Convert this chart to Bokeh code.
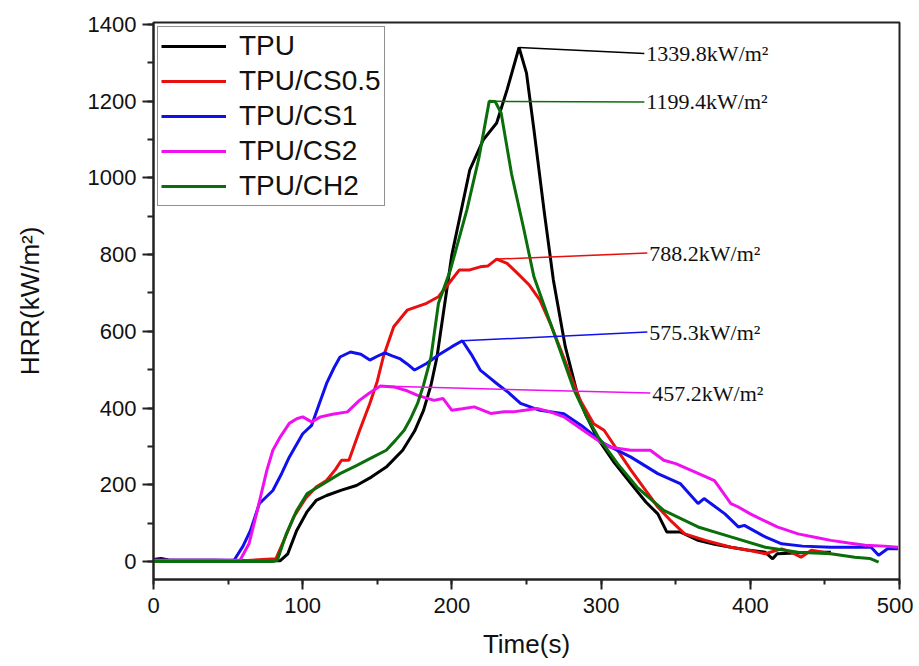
from bokeh.plotting import figure
from bokeh.models import (Legend, LegendItem, SingleIntervalTicker, Range1d,
                          ColumnDataSource)
from bokeh.core.properties import value
from bokeh.embed import file_html
from bokeh.resources import INLINE

# ---------------- data ----------------
tpu_t = [0, 5, 10, 20, 40, 60, 80, 85, 90, 96, 103, 109, 116, 126, 136, 146, 156, 167,
         175, 181, 186, 190, 200, 212, 221, 230, 237, 245, 250, 255, 262, 268, 276, 284,
         290, 297, 308, 320, 330, 338, 344, 353, 365, 376, 387, 398, 410, 415, 418, 430,
         442, 454]
tpu_y = [5, 8, 4, 3, 3, 2, 2, 2, 20, 81, 130, 159, 172, 186, 198, 220, 246, 290,
         340, 394, 460, 533, 800, 1021, 1099, 1143, 1230, 1339.8, 1273, 1125, 908, 734, 560, 438,
         380, 325, 262, 203, 155, 124, 77, 77, 55, 45, 37, 30, 24, 7, 20, 22,
         24, 24]

cs05_t = [0, 20, 40, 60, 82, 88, 94, 102, 109, 116, 122, 126, 131, 138, 145, 150, 154, 161,
          170, 183, 191, 197, 205, 212, 219, 224, 230, 237, 244, 252, 259, 266, 273, 280,
          286, 295, 302, 311, 320, 329, 338, 347, 356, 370, 387, 398, 410, 421, 427, 434,
          441, 448, 454]
cs05_y = [2, 2, 2, 2, 7, 60, 116, 165, 194, 211, 240, 264, 264, 340, 412, 470, 533, 612,
          655, 673, 690, 720, 760, 760, 768, 770, 788.2, 777, 751, 720, 681, 620, 551, 480,
          420, 359, 342, 290, 238, 190, 142, 105, 72, 55, 37, 30, 20, 33, 25, 11,
          29, 25, 20]

cs1_t = [0, 20, 40, 50, 54, 60, 65, 71, 80, 86, 91, 100, 106, 111, 116, 121, 125, 132,
         139, 145, 150, 155, 160, 165, 170, 175, 183, 191, 200, 207, 213, 219, 225, 230,
         238, 246, 259, 275, 288, 302, 320, 338, 353, 365, 369, 383, 392, 396, 410, 421,
         435, 454, 470, 481, 486, 492, 499]
cs1_y = [3, 3, 3, 3, 3, 40, 81, 151, 185, 230, 272, 333, 355, 410, 464, 505, 533, 546,
         540, 525, 535, 544, 536, 529, 515, 499, 516, 538, 560, 575.3, 540, 499, 480, 464,
         440, 412, 394, 385, 351, 307, 272, 229, 203, 151, 164, 124, 90, 94, 64, 46,
         40, 37, 37, 37, 16, 33, 33]

cs2_t = [0, 20, 40, 55, 58, 64, 69, 76, 80, 85, 91, 96, 100, 106, 112, 120, 130, 138,
         145, 152, 161, 170, 177, 188, 194, 200, 207, 215, 226, 235, 241, 250, 257, 266,
         275, 288, 300, 306, 320, 333, 342, 350, 360, 376, 387, 392, 400, 410, 418, 432,
         445, 454, 466, 477, 490, 499]
cs2_y = [3, 3, 3, 3, 3, 46, 124, 238, 290, 325, 360, 372, 377, 364, 377, 384, 390, 420,
         440, 457.2, 455, 445, 433, 420, 425, 394, 398, 403, 386, 390, 390, 395, 399, 390,
         377, 342, 310, 298, 290, 290, 264, 255, 238, 211, 151, 142, 124, 105, 90, 72,
         62, 55, 48, 42, 40, 37]

ch2_t = [0, 20, 40, 60, 80, 83, 89, 96, 103, 112, 125, 136, 147, 156, 162, 168, 172, 177,
         181, 186, 191, 199, 210, 218, 225, 229, 233, 240, 248, 255, 262, 270, 282, 290,
         298, 311, 324, 342, 365, 387, 410, 432, 454, 470, 480, 486]
ch2_y = [0, 0, 0, 0, 0, 3, 72, 133, 177, 198, 229, 250, 272, 290, 315, 342, 370, 412,
         460, 533, 673, 760, 916, 1050, 1199.4, 1199, 1169, 1010, 870, 742, 665, 578, 446, 380,
         325, 255, 194, 133, 90, 64, 37, 24, 20, 11, 8, -2]

series_names = ["TPU", "TPU/CS0.5", "TPU/CS1", "TPU/CS2", "TPU/CH2"]
series_colors = ["#000000", "#e8100e", "#1010ee", "#ee10ee", "#0a6e0a"]

# peak annotations
peak_x = [245, 229, 230, 207, 152]
peak_y = [1339.8, 1199.4, 788.2, 575.3, 457.2]
peak_colors = ["#000000", "#0a6e0a", "#e8100e", "#1010ee", "#ee10ee"]
label_x = [329, 329, 331, 331, 333]
label_y = [1324, 1198, 804, 598, 439]
label_text = ["1339.8kW/m²", "1199.4kW/m²", "788.2kW/m²", "575.3kW/m²", "457.2kW/m²"]

# ---------------- figure ----------------
p = figure(width=913, height=666, x_range=Range1d(0, 500), y_range=Range1d(-47, 1405),
           output_backend="svg", toolbar_location=None,
           min_border_left=153, min_border_right=14, min_border_top=22, min_border_bottom=87)
p.grid.visible = False
p.outline_line_color = "#222222"
p.outline_line_width = 2
p.background_fill_color = "white"
p.border_fill_color = "white"

SANS = "Liberation Sans"

xs = [tpu_t, cs05_t, cs1_t, cs2_t, ch2_t]
ys = [tpu_y, cs05_y, cs1_y, cs2_y, ch2_y]
items = []
for name, col, xx, yy in zip(series_names, series_colors, xs, ys):
    r = p.line(xx, yy, line_color=col, line_width=3)
    items.append(LegendItem(label=name, renderers=[r]))

# leader lines and labels
p.segment(x0=peak_x, y0=peak_y, x1=label_x, y1=label_y, line_color=peak_colors, line_width=1.5)
src = ColumnDataSource(dict(x=label_x, y=label_y, t=label_text))
p.text(x="x", y="y", text="t", source=src, text_font=value("Liberation Serif"),
       text_font_size="22px", text_baseline="middle", text_align="left", x_offset=2,
       text_color="#111111")

# axes
p.xaxis.ticker = SingleIntervalTicker(interval=100, num_minor_ticks=2)
p.yaxis.ticker = SingleIntervalTicker(interval=200, num_minor_ticks=2)
for ax in (p.xaxis[0], p.yaxis[0]):
    ax.axis_line_width = 2
    ax.axis_line_color = "#222222"
    ax.major_tick_line_width = 2
    ax.minor_tick_line_width = 2
    ax.major_tick_line_color = "#222222"
    ax.minor_tick_line_color = "#222222"
    ax.major_tick_in = 0
    ax.minor_tick_in = 0
    ax.major_label_text_font = SANS
    ax.major_label_text_font_size = "22px"
    ax.major_label_text_color = "#111111"
    ax.axis_label_text_font = SANS
    ax.axis_label_text_font_size = "26px"
    ax.axis_label_text_font_style = "normal"
    ax.axis_label_text_color = "#111111"

p.xaxis.major_tick_out = 10
p.xaxis.minor_tick_out = 5
p.xaxis.major_label_standoff = 8
p.xaxis.axis_label = "Time(s)"
p.xaxis.axis_label_standoff = 13

p.yaxis.major_tick_out = 11
p.yaxis.minor_tick_out = 6
p.yaxis.major_label_standoff = 6
p.yaxis.axis_label = "HRR(kW/m²)"
p.yaxis.axis_label_standoff = 40

legend = Legend(items=items, location="top_left")
legend.margin = 4
legend.padding = 3
legend.spacing = 3
legend.border_line_color = "#222222"
legend.border_line_width = 1.5
legend.label_text_font = SANS
legend.label_text_font_size = "28px"
legend.label_text_color = "#111111"
legend.glyph_width = 65
legend.glyph_height = 28
legend.label_height = 28
legend.label_standoff = 13
legend.background_fill_alpha = 1
p.add_layout(legend)

open("out.html", "w").write(file_html(p, INLINE))
